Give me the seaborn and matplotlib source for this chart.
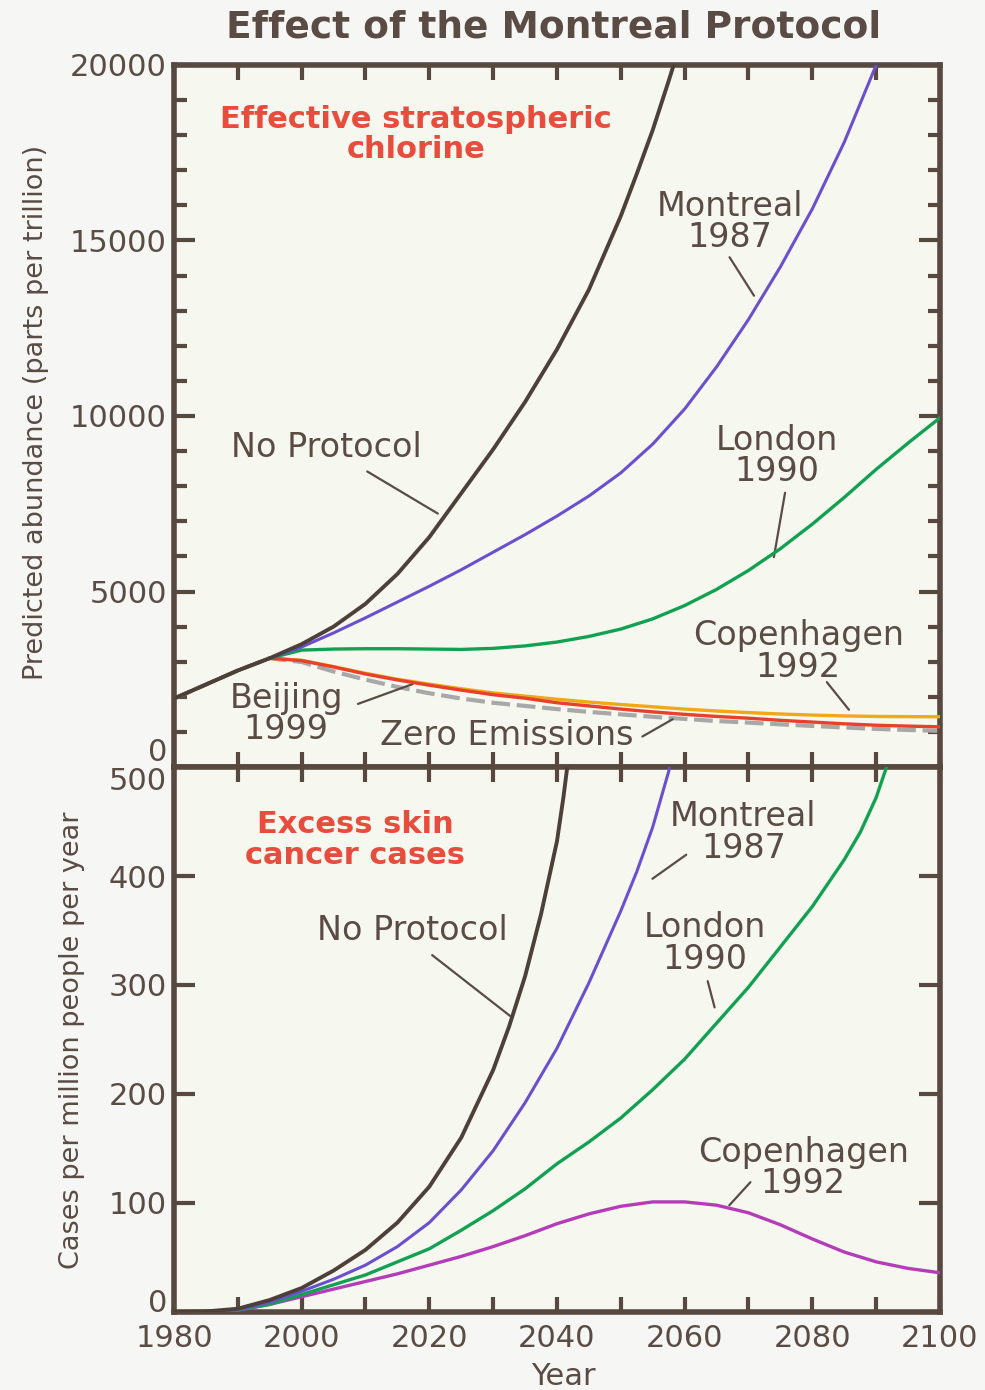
import matplotlib
matplotlib.use("Agg")
import matplotlib.pyplot as plt
import seaborn as sns

# ---- data ----
years = list(range(1980, 2101, 5))
years_steep_cl = list(range(1980, 2051, 5)) + [2052.5, 2055, 2057.5, 2060]

# Effective stratospheric chlorine, parts per trillion
no_protocol_cl = [1950, 2350, 2750, 3100, 3500, 4000, 4650, 5500, 6550, 7800, 9050,
                  10400, 11900, 13600, 15700, 16900, 18150, 19550, 21000]
montreal_cl = [1950, 2350, 2750, 3100, 3420, 3820, 4250, 4700, 5150, 5620, 6120,
               6620, 7150, 7720, 8380, 9200, 10200, 11400, 12750, 14250, 15900,
               17800, 20000]
london_cl = [1950, 2350, 2750, 3100, 3330, 3360, 3370, 3370, 3360, 3350, 3380,
             3450, 3560, 3720, 3930, 4220, 4600, 5060, 5600, 6220, 6920, 7680,
             8480, 9230, 9950]
copenhagen_cl = [1950, 2350, 2750, 3100, 3040, 2860, 2670, 2500, 2360, 2230, 2110,
                 2020, 1930, 1850, 1780, 1715, 1650, 1595, 1550, 1510, 1480, 1455,
                 1440, 1435, 1430]
beijing_cl = [1950, 2350, 2750, 3100, 3030, 2850, 2650, 2480, 2330, 2190, 2060,
              1960, 1830, 1740, 1650, 1570, 1500, 1440, 1390, 1330, 1280, 1230,
              1190, 1165, 1145]
zero_cl = [1950, 2350, 2750, 3100, 2990, 2720, 2490, 2280, 2100, 1950, 1830,
           1740, 1650, 1570, 1500, 1430, 1370, 1310, 1265, 1215, 1170, 1125,
           1085, 1055, 1030]

# Excess skin cancer cases per million people per year
years_np_skin = list(range(1980, 2031, 5)) + [2032.5, 2035, 2037.5, 2040, 2041, 2042]
no_protocol_skin = [0, 0.5, 3, 11, 22, 38, 57, 82, 115, 160, 222, 262, 308, 365,
                    432, 472, 518]
years_mo_skin = list(range(1980, 2051, 5)) + [2052.5, 2055, 2057.5, 2060]
montreal_skin = [0, 0.5, 2, 9, 19, 30, 43, 60, 82, 112, 148, 192, 242, 302, 368,
                 404, 445, 496, 560]
years_lo_skin = list(range(1980, 2086, 5)) + [2087.5, 2090, 2092.5]
london_skin = [0, 0.5, 2, 7, 16, 25, 34, 46, 58, 75, 93, 113, 136, 156, 178, 204,
               232, 265, 298, 335, 372, 415, 440, 472, 515]
copenhagen_skin = [0, 0.5, 1.5, 7, 14, 21, 28, 35, 43, 51, 60, 70, 81, 90, 97, 101,
                   101, 98, 91, 80, 67, 55, 46, 40, 36]

# ---- style ----
BROWN = "#574840"
TEXT = "#5a4c44"
RED_TXT = "#e84c3d"

sns.set_theme(style="ticks")
plt.rcParams["font.family"] = ["DejaVu Sans"]

fig = plt.figure(figsize=(9.85, 13.9), dpi=100)
fig.patch.set_facecolor("#f6f6f4")

ax1 = fig.add_axes([0.17665, 0.44820, 0.77766, 0.50504])
ax2 = fig.add_axes([0.17665, 0.05612, 0.77766, 0.39208])

for ax in (ax1, ax2):
    ax.set_facecolor("#f6f7ef")
    for sp in ax.spines.values():
        sp.set_color(BROWN)
        sp.set_linewidth(4)
        sp.set_visible(True)
    ax.set_xlim(1980, 2100)

# ---- top panel ----
top_series = [
    (years, zero_cl, "#a8a8a8", 3.0, (0, (4.5, 1.6)), 2),
    (years, copenhagen_cl, "#f0a818", 2.4, "-", 3),
    (years, beijing_cl, "#e8402a", 2.4, "-", 4),
    (years, london_cl, "#12a152", 2.4, "-", 5),
    (years, montreal_cl, "#6a4fcf", 2.2, "-", 6),
    (years_steep_cl, no_protocol_cl, "#4d4039", 2.8, "-", 7),
]
for xs, vals, col, lw, ls, z in top_series:
    sns.lineplot(x=xs[:len(vals)], y=vals, ax=ax1, color=col, lw=lw,
                 linestyle=ls, zorder=z)

ax1.set_ylim(0, 20000)
ax1.set_yticks([0, 5000, 10000, 15000, 20000])
ax1.set_yticks(range(0, 20001, 1000), minor=True)
ax1.set_xticks(range(1980, 2101, 10))
ax1.tick_params(axis="y", which="major", direction="in", length=15, width=3,
                left=True, right=True, color=BROWN, labelsize=22,
                labelcolor=TEXT, pad=5)
ax1.tick_params(axis="y", which="minor", direction="in", length=9, width=3,
                left=True, right=True, color=BROWN)
ax1.tick_params(axis="x", direction="in", length=11, width=3, top=True,
                bottom=True, color=BROWN, labelbottom=False)
ax1.set_xlabel("")
ax1.set_ylabel("")
ax1.yaxis.get_major_ticks()[0].label1.set_verticalalignment("bottom")

ax1.text(2017.9, 18030, "Effective stratospheric\nchlorine", color=RED_TXT,
         fontsize=22, fontweight="bold", ha="center", va="center",
         linespacing=1.05)

lab = dict(color=TEXT, fontsize=24, ha="center", va="center", linespacing=0.95)
line = dict(arrowstyle="-", color=TEXT, lw=1.6)
ax1.text(2003.8, 9090, "No Protocol", **lab)
ax1.annotate("", xy=(2021.7, 7180), xytext=(2009.9, 8460), arrowprops=line)
ax1.text(2067.1, 15530, "Montreal\n1987", **lab)
ax1.annotate("", xy=(2071.1, 13360), xytext=(2066.8, 14590), arrowprops=line)
ax1.text(2074.5, 8860, "London\n1990", **lab)
ax1.annotate("", xy=(2073.9, 5900), xytext=(2075.8, 7890), arrowprops=line)
ax1.text(2077.8, 3300, "Copenhagen\n1992", **lab)
ax1.annotate("", xy=(2086, 1570), xytext=(2082, 2480), arrowprops=line)
ax1.text(1997.6, 1510, "Beijing\n1999", **lab)
ax1.annotate("", xy=(2017.8, 2390), xytext=(2008.4, 1770), arrowprops=line)
ax1.text(2032.2, 910, "Zero Emissions", **lab)
ax1.annotate("", xy=(2058.5, 1400), xytext=(2053, 830), arrowprops=line)

# ---- bottom panel ----
bottom_series = [
    (years, copenhagen_skin, "#b43cb8", 2.4, 3),
    (years_lo_skin, london_skin, "#12a152", 2.4, 4),
    (years_mo_skin, montreal_skin, "#6a4fcf", 2.2, 5),
    (years_np_skin, no_protocol_skin, "#4d4039", 2.8, 6),
]
for xs, vals, col, lw, z in bottom_series:
    sns.lineplot(x=xs[:len(vals)], y=vals, ax=ax2, color=col, lw=lw, zorder=z)

ax2.set_ylim(0, 500)
ax2.set_yticks(range(0, 501, 100))
xt = list(range(1980, 2101, 10))
ax2.set_xticks(xt, labels=[str(t) if (t - 1980) % 20 == 0 else "" for t in xt])
ax2.tick_params(axis="y", direction="in", length=15, width=3, left=True,
                right=True, color=BROWN, labelsize=22, labelcolor=TEXT, pad=5)
ax2.tick_params(axis="x", direction="in", length=11, width=3, top=True,
                bottom=True, color=BROWN, labelsize=22, labelcolor=TEXT, pad=9)
ax2.set_xlabel("")
ax2.set_ylabel("")
ax2.yaxis.get_major_ticks()[-1].label1.set_verticalalignment("top")
ax2.yaxis.get_major_ticks()[0].label1.set_verticalalignment("baseline")

ax2.text(2008.4, 433, "Excess skin\ncancer cases", color=RED_TXT, fontsize=22,
         fontweight="bold", ha="center", va="center", linespacing=1.05)
ax2.text(2017.3, 350, "No Protocol", **lab)
ax2.annotate("", xy=(2033, 270), xytext=(2020.1, 329), arrowprops=line)
ax2.text(2069.2, 440, "Montreal\n1987", **lab)
ax2.annotate("", xy=(2054.6, 396), xytext=(2060.6, 421), arrowprops=line)
ax2.text(2063.2, 338, "London\n1990", **lab)
ax2.annotate("", xy=(2064.8, 277), xytext=(2063.5, 306), arrowprops=line)
ax2.text(2078.6, 132, "Copenhagen\n1992", **lab)
ax2.annotate("", xy=(2066.7, 96), xytext=(2070.6, 121), arrowprops=line)

# ---- titles and axis labels ----
fig.text(0.562, 0.9799, "Effect of the Montreal Protocol", color=TEXT,
         fontsize=27, fontweight="bold", ha="center", va="center")
fig.text(0.0365, 0.7036, "Predicted abundance (parts per trillion)", color=TEXT,
         fontsize=19.5, rotation=90, ha="center", va="center")
fig.text(0.0731, 0.2518, "Cases per million people per year", color=TEXT,
         fontsize=19.5, rotation=90, ha="center", va="center")
fig.text(0.5716, 0.0094, "Year", color=TEXT, fontsize=22, ha="center",
         va="center")

fig.savefig("out.png", dpi=100, facecolor=fig.get_facecolor())
